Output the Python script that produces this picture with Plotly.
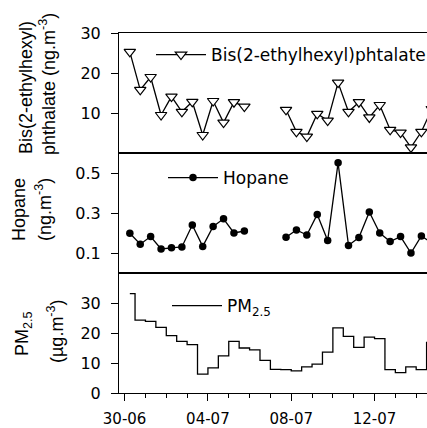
import plotly.graph_objects as go

# sample times (days after 30-06 00:00), 12-h samples
days = [0.25, 0.75, 1.25, 1.75, 2.25, 2.75, 3.25, 3.75, 4.25, 4.75,
        5.25, 5.75, 6.25, 6.75, 7.25, 7.75, 8.25, 8.75, 9.25, 9.75,
        10.25, 10.75, 11.25, 11.75, 12.25, 12.75, 13.25, 13.75, 14.25, 14.75]

bis = [25.3, 15.8, 19.0, 9.5, 14.1, 10.3, 12.8, 4.5, 13.0, 7.6,
       12.7, 11.6, None, None, None, 10.8, 5.3, 4.1, 9.8, 8.1,
       17.6, 10.3, 12.7, 8.9, 12.0, 5.8, 5.1, 1.4, 5.3, 11.0]

hopane = [0.199, 0.144, 0.182, 0.120, 0.126, 0.130, 0.240, 0.133, 0.233, 0.271,
          0.200, 0.210, None, None, None, 0.179, 0.215, 0.190, 0.293, 0.162,
          0.551, 0.138, 0.177, 0.305, 0.200, 0.157, 0.182, 0.100, 0.185, 0.151]

pm25 = [33.1, 24.3, 23.9, 21.9, 19.1, 17.2, 16.1, 6.3, 8.4, 12.4,
        17.2, 15.0, 14.4, 10.9, 7.9, 7.8, 7.4, 8.7, 9.6, 13.6,
        21.7, 18.9, 15.2, 18.6, 18.1, 7.8, 6.8, 8.7, 7.8, 16.9]

tick_days = [0, 4, 8, 12]
tick_labels = ["30-06", "04-07", "08-07", "12-07"]

W, H = 427, 428
ML, MR, MT, MB = 119, 0, 33, 35
PW = W - ML - MR
PH = H - MT - MB

def px_x(p):
    return (p - ML) / PW

def px_y(p):
    return (H - MB - p) / PH

TICKFONT = dict(family="DejaVu Sans", size=16, color="black")
XTICKFONT = dict(family="DejaVu Sans", size=15, color="black")
LEGFONT = dict(family="DejaVu Sans", size=17, color="black")
TITLEFONT = dict(family="Liberation Sans, Arial", size=18, color="black")

fig = go.Figure()

fig.add_trace(go.Scatter(
    x=days, y=bis, xaxis="x3", yaxis="y3", mode="lines+markers",
    name="Bis(2-ethylhexyl)phtalate", legend="legend",
    line=dict(color="black", width=1.3),
    marker=dict(symbol="triangle-down", size=10, color="white",
                line=dict(color="black", width=1.2)),
    connectgaps=False))

fig.add_trace(go.Scatter(
    x=days, y=hopane, xaxis="x2", yaxis="y2", mode="lines+markers",
    name="Hopane", legend="legend2",
    line=dict(color="black", width=1.3),
    marker=dict(symbol="circle", size=7.5, color="black"),
    connectgaps=False))

fig.add_trace(go.Scatter(
    x=days, y=pm25, xaxis="x", yaxis="y", mode="lines",
    name="PM<sub>2.5</sub>", legend="legend3",
    line=dict(color="black", width=1.3, shape="hvh")))

xr = [-0.27, 14.52]
common_x = dict(range=xr, showline=True, linecolor="black", linewidth=1,
                mirror=True, showgrid=False, zeroline=False)
common_y = dict(ticks="outside", ticklen=7, tickcolor="black", showline=True,
                linecolor="black", showgrid=False, zeroline=False,
                tickfont=TICKFONT, ticklabelstandoff=7, automargin=False)

fig.update_layout(
    width=W, height=H,
    margin=dict(l=ML, r=MR, t=MT, b=MB, pad=0, autoexpand=False),
    paper_bgcolor="white", plot_bgcolor="white",
    xaxis=dict(**common_x, domain=[0, 1], anchor="y", automargin=False,
               tickmode="array", tickvals=tick_days, ticktext=tick_labels,
               ticks="outside", ticklen=7, tickcolor="black", tickwidth=1,
               tickfont=XTICKFONT, ticklabelstandoff=5,
               minor=dict(tickmode="linear", tick0=0, dtick=1, ticks="outside",
                          ticklen=4, tickcolor="black", tickwidth=1)),
    xaxis2=dict(**common_x, domain=[0, 1], anchor="y2", matches="x",
                showticklabels=False, ticks=""),
    xaxis3=dict(**common_x, domain=[0, 1], anchor="y3", matches="x",
                showticklabels=False, ticks=""),
    yaxis=dict(**common_y, domain=[0, 1/3], range=[0, 40], tickmode="array",
               tickvals=[0, 10, 20, 30]),
    yaxis2=dict(**common_y, domain=[1/3, 2/3], range=[0, 0.6], tickmode="array",
                tickvals=[0.1, 0.3, 0.5], ticktext=["0.1", "0.3", "0.5"]),
    yaxis3=dict(**common_y, domain=[2/3, 1], range=[0, 30], tickmode="array",
                tickvals=[10, 20, 30]),
    legend=dict(x=px_x(151), y=px_y(55), xanchor="left", yanchor="middle",
                bgcolor="rgba(0,0,0,0)", borderwidth=0, font=LEGFONT,
                itemwidth=50),
    legend2=dict(x=px_x(163), y=px_y(178), xanchor="left", yanchor="middle",
                 bgcolor="rgba(0,0,0,0)", borderwidth=0, font=LEGFONT,
                 itemwidth=50),
    legend3=dict(x=px_x(167), y=px_y(306), xanchor="left", yanchor="middle",
                 bgcolor="rgba(0,0,0,0)", borderwidth=0, font=LEGFONT,
                 itemwidth=50),
    showlegend=True,
)

titles = [
    ("Bis(2-ethylhexyl)", 26, 88),
    ("phthalate (ng.m<sup>-3</sup>)", 47, 84),
    ("Hopane", 19, 210),
    ("(ng.m<sup>-3</sup>)", 43, 210),
    ("PM<sub>2.5</sub>", 23, 334),
    ("(µg.m<sup>-3</sup>)", 55, 331),
]
for txt, px, py in titles:
    fig.add_annotation(text=txt, x=px_x(px), y=px_y(py), xref="paper", yref="paper",
                       xanchor="center", yanchor="middle", textangle=-90,
                       showarrow=False, font=TITLEFONT)

fig.write_html("out.html", config={"displayModeBar": False},
               post_script="document.body.style.margin='0';document.body.style.overflow='hidden';")
